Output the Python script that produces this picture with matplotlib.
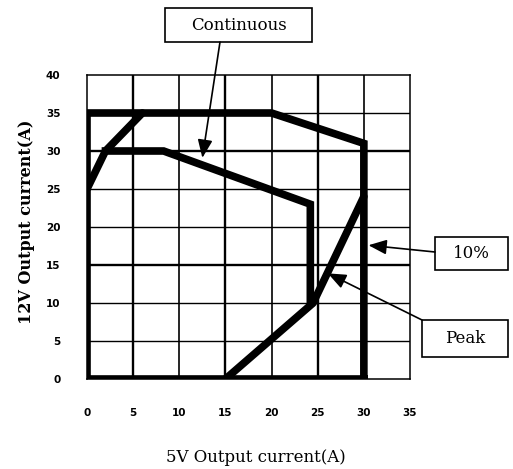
import matplotlib
matplotlib.use('Agg')
import matplotlib.pyplot as plt
from matplotlib.patches import Rectangle

# 各条边界线（5V 电流, 12V 电流）
outer_x = [30, 0, 0, 20, 30, 30]
outer_y = [0, 0, 35, 35, 31, 0]
left_x = [0, 2, 6]
left_y = [25, 30, 35]
cont_x = [2, 8.3, 24.2, 24.2]
cont_y = [30, 30, 23, 10]
peak_x = [15, 24.5, 30]
peak_y = [0, 10, 24]

x_ticks = [0, 5, 10, 15, 20, 25, 30, 35]
y_ticks = [0, 5, 10, 15, 20, 25, 30, 35, 40]

# 标注文字和箭头指向的位置
labels = ['Continuous', '10%', 'Peak']
label_points = [(12.5, 29.1), (30.5, 17.6), (26.1, 13.9)]

W, H = 513, 469
fig = plt.figure(figsize=(W / 100, H / 100), dpi=100)
ax = fig.add_axes([87 / W, 1 - 379 / H, 323 / W, 304 / H])
ax.set_xlim(0, 35)
ax.set_ylim(0, 40)

# 网格线（扫描图里粗细不一）
for x in x_ticks[1:-1]:
    ax.axvline(x, color='k', lw=1.7 if x in (5, 15, 25) else 1.2, zorder=1)
for y in y_ticks[1:-1]:
    ax.axhline(y, color='k', lw=1.7 if y in (15, 30) else 1.0, zorder=1)

lw = 5.5
ax.plot(outer_x, outer_y, color='k', lw=lw, solid_joinstyle='miter', zorder=3)
ax.plot(left_x, left_y, color='k', lw=lw, solid_capstyle='round', zorder=3)
ax.plot(cont_x, cont_y, color='k', lw=lw, solid_joinstyle='miter', zorder=3)
ax.plot(peak_x, peak_y, color='k', lw=lw, solid_capstyle='round', zorder=3)

ax.set_xticks(x_ticks)
ax.set_yticks(y_ticks)
ax.tick_params(length=0, labelsize=7.5)
ax.tick_params(axis='x', pad=21)
ax.tick_params(axis='y', pad=19)
for t in ax.get_xticklabels() + ax.get_yticklabels():
    t.set_fontweight('bold')
for s in ax.spines.values():
    s.set_linewidth(1.1)

fig.text(256 / W, 1 - 457 / H, '5V Output current(A)', family='DejaVu Serif',
         fontsize=12, ha='center', va='center')
fig.text(27 / W, 1 - 222 / H, '12V Output current(A)', family='DejaVu Serif',
         fontsize=11.5, ha='center', va='center', rotation=90, fontweight='bold')


# 方框 + 箭头（像素坐标，左上为原点）
def label_box(text, x0, y0, x1, y1, sx, sy, pt):
    fig.patches.append(Rectangle((x0 / W, 1 - y1 / H), (x1 - x0) / W, (y1 - y0) / H,
                                 transform=fig.transFigure, fill=False,
                                 edgecolor='k', lw=1.2))
    fig.text((x0 + x1) / 2 / W, 1 - (y0 + y1) / 2 / H, text, family='DejaVu Serif',
             fontsize=12, ha='center', va='center')
    ax.annotate('', xy=pt, xytext=(sx / W, 1 - sy / H), textcoords='figure fraction',
                arrowprops=dict(arrowstyle='-|>,head_length=1.1,head_width=0.45',
                                color='k', lw=1.2, shrinkA=0, shrinkB=0),
                annotation_clip=False)


label_box(labels[0], 165, 8, 312, 42, 220, 42, label_points[0])
label_box(labels[1], 435, 237, 508, 270, 435, 252, label_points[1])
label_box(labels[2], 422, 320, 508, 357, 422, 320, label_points[2])

plt.savefig('out.png', dpi=100)
